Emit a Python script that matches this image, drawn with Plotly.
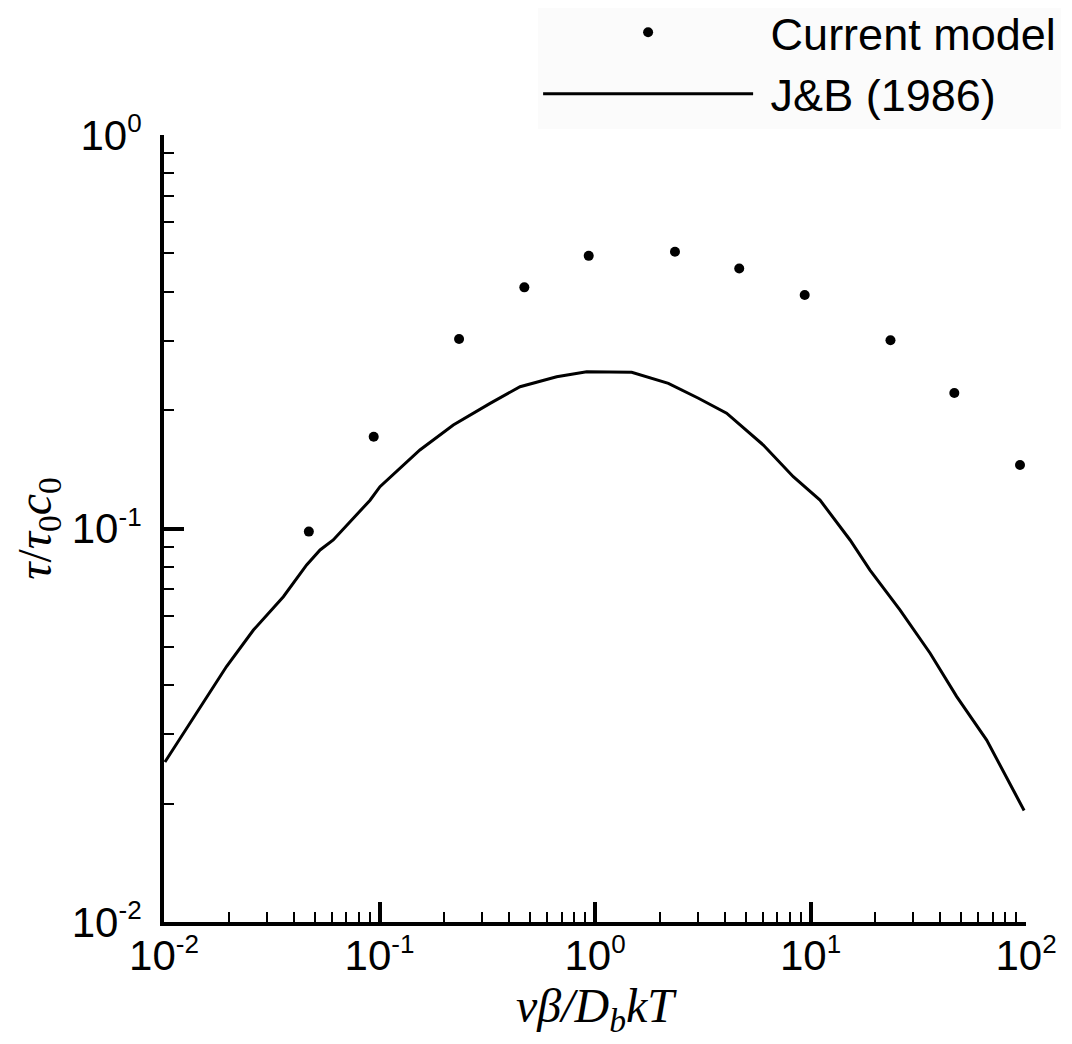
import plotly.graph_objects as go

# Current model (dots)
model_x = [0.047, 0.094, 0.234, 0.47, 0.935, 2.35, 4.67, 9.4, 23.5, 46.5, 93.8]
model_y = [0.0982, 0.171, 0.303, 0.41, 0.493, 0.505, 0.458, 0.392, 0.301, 0.221, 0.145]

# J&B (1986) curve
jb_x = [0.0101, 0.0142, 0.0195, 0.026, 0.0358, 0.0459, 0.053, 0.061, 0.0904, 0.1005,
        0.154, 0.22, 0.326, 0.449, 0.664, 0.915, 1.48, 2.19, 3.02, 4.08, 6.04, 8.32,
        11.07, 15.26, 18.88, 26.0, 35.9, 47.7, 65.7, 98.0]
jb_y = [0.0255, 0.0342, 0.0446, 0.0552, 0.0671, 0.0808, 0.0882, 0.0935, 0.118, 0.1277,
        0.1583, 0.1833, 0.208, 0.2293, 0.243, 0.2503, 0.2494, 0.2339, 0.2143, 0.1963,
        0.163, 0.1354, 0.1181, 0.0935, 0.0784, 0.0621, 0.0482, 0.0374, 0.029, 0.0192]

x_tick_vals = [0.01, 0.1, 1, 10, 100]
x_tick_exp = ["-2", "-1", "0", "1", "2"]
y_tick_vals = [0.01, 0.1, 1]
y_tick_exp = ["-2", "-1", "0"]


def pow_label(e):
    return "10<sup><span style='font-size:26px'>" + e + "</span></sup>"


x_tick_text = [pow_label(e) for e in x_tick_exp]
y_tick_text = [pow_label(e) for e in y_tick_exp]

x_minor = [m * d for d in [0.01, 0.1, 1, 10] for m in range(2, 10)]
y_minor = [m * d for d in [0.01, 0.1] for m in range(2, 10)]

fig = go.Figure()
fig.add_trace(go.Scatter(
    x=model_x, y=model_y, mode="markers", name="\u00a0Current model",
    marker=dict(color="black", size=10, symbol="circle"),
))
fig.add_trace(go.Scatter(
    x=jb_x, y=jb_y, mode="lines", name="\u00a0J&B (1986)",
    line=dict(color="black", width=3),
))

tick_font = dict(family="Liberation Sans, Arial, sans-serif", size=42, color="black")
title_font = dict(family="Liberation Serif, Times New Roman, serif", size=48, color="black")

fig.update_layout(
    width=1072, height=1044,
    margin=dict(l=156, r=54, t=127, b=130, autoexpand=False),
    paper_bgcolor="white", plot_bgcolor="white",
    showlegend=True,
    legend=dict(
        x=0.434, y=1.176, xanchor="left", yanchor="top",
        font=dict(family="Liberation Sans, Arial, sans-serif", size=45, color="black"),
        bgcolor="#fbfbfb", itemwidth=210, borderwidth=0,
        tracegroupgap=0,
    ),
    xaxis=dict(
        type="log", range=[-2, 2],
        showline=True, linecolor="black", linewidth=4, mirror=False,
        showgrid=False, zeroline=False,
        ticks="inside", ticklen=20, tickwidth=4, tickcolor="black",
        tickmode="array", tickvals=x_tick_vals, ticktext=x_tick_text,
        tickfont=tick_font, ticklabelstandoff=-6,
        minor=dict(ticks="inside", ticklen=10, tickwidth=1.5, tickcolor="black",
                   tickmode="array", tickvals=x_minor, showgrid=False),
        title=dict(text="<i>νβ/D<sub>b</sub>kT</i>", font=title_font, standoff=0),
    ),
    yaxis=dict(
        type="log", range=[-2, 0],
        showline=True, linecolor="black", linewidth=4, mirror=False,
        showgrid=False, zeroline=False,
        ticks="inside", ticklen=20, tickwidth=4, tickcolor="black",
        tickmode="array", tickvals=y_tick_vals, ticktext=y_tick_text,
        tickfont=tick_font, ticklabelstandoff=10,
        minor=dict(ticks="inside", ticklen=10, tickwidth=1.5, tickcolor="black",
                   tickmode="array", tickvals=y_minor, showgrid=False),
        title=dict(text="<i>τ</i>/<i>τ</i><sub>0</sub><i>c</i><sub>0</sub>",
                   font=title_font, standoff=18),
    ),
)

fig.write_html("out.html")
